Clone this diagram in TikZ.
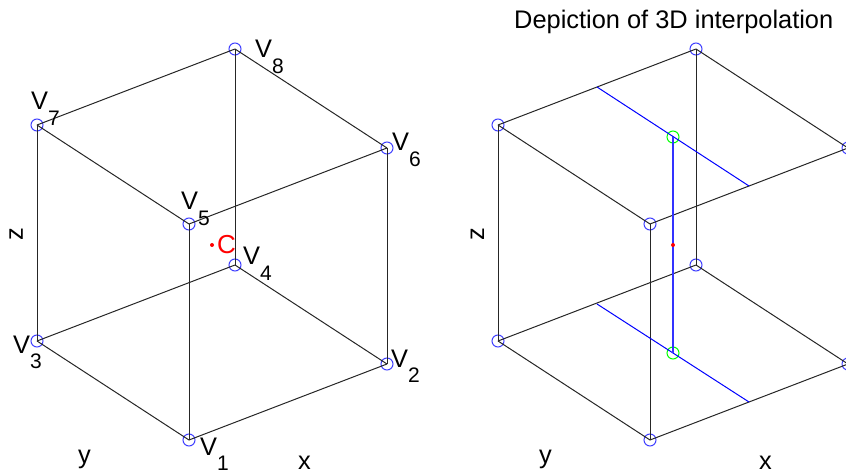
\documentclass[tikz,border=0pt]{standalone}
\usepackage{fontspec}
\setmainfont{Liberation Sans}
\newcommand{\vsub}[1]{V\raisebox{-0.6em}{\fontsize{21}{21}\selectfont #1}}
\tikzset{
vert/.style={circle,draw=blue!75,line width=1pt,inner sep=0pt,minimum size=12pt},
mid/.style={circle,draw=green,line width=1pt,inner sep=0pt,minimum size=12pt},
dot/.style={circle,fill=red,inner sep=0pt,minimum size=4pt},
edge/.style={black!85,line width=1pt},
interp/.style={blue,line width=1pt},
lab/.style={anchor=base west,inner sep=0pt,font=\fontsize{25.4}{25.4}\selectfont}
}
\begin{document}
\begin{tikzpicture}[x=1pt,y=-1pt]
\useasboundingbox (0,0) rectangle (846,473);
\clip (0,0) rectangle (846,473);
% vertices of both cubes
\foreach \n/\x/\y in {1/189/440,2/387/364,3/37/341,4/235/265,5/189/224,6/387/148,7/37/125,8/235/49} {
\node[vert] (l\n) at (\x,\y) {};
\node[vert] (r\n) at ({\x+461},\y) {};
}
\foreach \a/\b in {1/2,1/3,2/4,3/4,5/6,5/7,6/8,7/8,1/5,2/6,3/7,4/8} {
\draw[edge] (l\a.center) -- (l\b.center);
\draw[edge] (r\a.center) -- (r\b.center);
}
% interpolation lines
\coordinate (tl) at (597,87);
\coordinate (tr) at (749,186);
\coordinate (bl) at (597,304);
\coordinate (br) at (749,402);
\node[mid] (gt) at (673,137) {};
\node[mid] (gb) at (673,353) {};
\draw[interp] (tl) -- (tr);
\draw[interp] (bl) -- (br);
\draw[interp,blue!80,line width=1.2pt] (gt.center) -- (gb.center);
\node[dot] (cr) at (673,245) {};
% labels
\node[dot] (cl) at (212,245) {};
\node[lab,text=red,font=\fontsize{26}{26}\selectfont] (cname) at (217,253) {C};
\node[lab] (n1) at (200,455) {\vsub{1}};
\node[lab] (n2) at (391,367) {\vsub{2}};
\node[lab] (n3) at (13,353) {\vsub{3}};
\node[lab] (n4) at (243,265) {\vsub{4}};
\node[lab] (n5) at (181,210) {\vsub{5}};
\node[lab] (n6) at (392,151) {\vsub{6}};
\node[lab] (n7) at (31,110) {\vsub{7}};
\node[lab] (n8) at (255,58) {\vsub{8}};
\node[lab] (ly) at (78,463) {y};
\node[lab] (lx) at (298,469) {x};
\node[lab,rotate=90] (lz) at (23,241) {z};
\node[lab] (ry) at (539,463) {y};
\node[lab] (rx) at (759,469) {x};
\node[lab,rotate=90] (rz) at (484,241) {z};
\node[lab] (title) at (514,29) {Depiction of 3D interpolation};
\end{tikzpicture}
\end{document}
